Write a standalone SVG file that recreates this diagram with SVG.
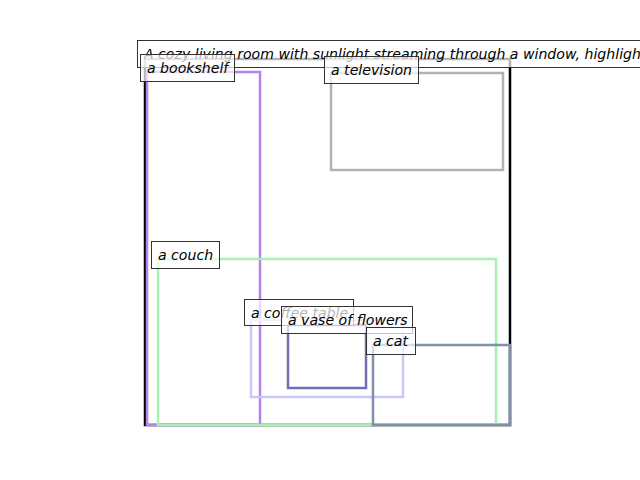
<svg xmlns="http://www.w3.org/2000/svg" width="640" height="480" viewBox="0 0 640 480">
<style>
.box{fill:none;stroke-width:2.5}
.lbl rect{fill:#fff;fill-opacity:0.7;stroke:#333;stroke-width:1}
.lbl text{font-family:"DejaVu Sans",sans-serif;font-style:italic;font-size:14.1px;fill:#000}
</style>
<rect width="640" height="480" fill="#fff"/>
<g id="frame"><rect x="145" y="59" width="365" height="366" fill="none" stroke="#000" stroke-width="2.5"/></g>
<g id="boxes">
<g id="bookshelf-box"><rect class="box" x="147" y="72" width="113" height="353" stroke="#b580f0"/></g>
<g id="television-box"><rect class="box" x="331" y="73" width="172" height="97" stroke="#b8b0b0"/></g>
<g id="couch-box"><rect class="box" x="158" y="259" width="338" height="166" stroke="#a8f0b0"/></g>
<g id="coffee-table-box"><rect class="box" x="251" y="320" width="152" height="77" stroke="#c8c8f8"/></g>
<g id="vase-box"><rect class="box" x="288" y="325" width="78" height="63" stroke="#7070b0"/></g>
<g id="cat-box"><rect class="box" x="373" y="345" width="137" height="80" stroke="#8090a8"/></g>
</g>
<g id="labels">
<g id="title" class="lbl"><rect x="137.5" y="40.5" width="520" height="27"/><text x="144" y="59">A cozy living room with sunlight streaming through a window, highlighting</text></g>
<g id="bookshelf" class="lbl"><rect x="140.5" y="54.5" width="94" height="27"/><text x="147" y="73">a bookshelf</text></g>
<g id="television" class="lbl"><rect x="324.5" y="56.5" width="94" height="27"/><text x="331" y="75">a television</text></g>
<g id="couch" class="lbl"><rect x="151.5" y="241.5" width="68" height="27"/><text x="158" y="260">a couch</text></g>
<g id="coffee-table" class="lbl"><rect x="244.5" y="299.5" width="109" height="26"/><text x="251" y="318">a coffee table</text></g>
<g id="vase" class="lbl"><rect x="281.5" y="306.5" width="131" height="27"/><text x="288" y="325">a vase of flowers</text></g>
<g id="cat" class="lbl"><rect x="366.5" y="327.5" width="49" height="27"/><text x="373" y="346">a cat</text></g>
</g>
</svg>
